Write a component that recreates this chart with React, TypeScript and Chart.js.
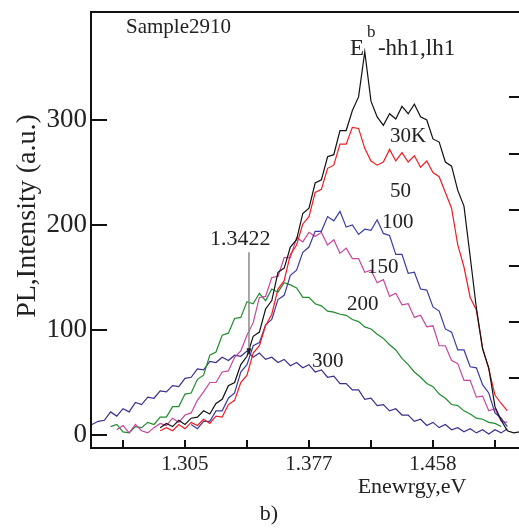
import React, { useEffect, useRef } from 'react';
import { Chart, registerables } from 'chart.js';

Chart.register(...registerables);

const FONT = '"Liberation Serif", "Times New Roman", serif';

// Shared wavelength grid (nm); the energy axis is linear in wavelength
const wavelengthNm = [
  987.5, 985, 982.5, 980, 977.5, 975, 972.5, 970, 967.5, 965,
  962.5, 960, 957.5, 955, 952.5, 950, 947.5, 945, 942.5, 940,
  937.5, 935, 932.5, 930, 927.5, 925, 922.5, 920, 917.5, 915,
  912.5, 910, 907.5, 905, 902.5, 900, 897.5, 895, 892.5, 890,
  887.5, 885, 882.5, 880, 877.5, 875, 872.5, 870, 867.5, 865,
  862.5, 860, 857.5, 855, 852.5, 850, 847.5, 845, 842.5, 840,
  837.5, 835, 832.5, 830, 827.5, 825, 822.5, 820, 817.5, 815,
];

const n = null;

const pl30K = [
  n, n, n, n, n, n, n, n, n, n,
  n, 7, 11, 8, 14, 10, 16, 17, 23, 20,
  30, 34, 47, 50, 67, 75, 94, 98, 120, 128,
  155, 159, 179, 186, 211, 216, 240, 243, 265, 267,
  290, 290, 309, 322, 365, 318, 303, 295, 306, 301,
  313, 306, 315, 303, 300, 282, 279, 260, 256, 233,
  218, 170, 121, 82, 64, 27, 14, 4, 2, 3,
];

const pl50K = [
  n, n, n, n, n, n, n, n, n, n,
  n, 4, 7, 4, 10, 6, 12, 9, 15, 11,
  18, 17, 29, 33, 50, 57, 78, 85, 104, 115,
  139, 147, 172, 181, 201, 208, 231, 234, 254, 257,
  277, 277, 293, 292, 273, 261, 257, 260, 272, 261,
  269, 260, 266, 255, 261, 250, 246, 231, 216, 181,
  160, 131, 119, 83, 63, 38, 30, 23, n, n,
];

const pl100K = [
  n, n, n, n, n, n, n, n, n, n,
  n, n, n, n, n, n, 10, 6, 13, 13,
  23, 23, 35, 40, 60, 67, 85, 88, 105, 110,
  129, 133, 152, 157, 174, 179, 194, 194, 208, 204,
  213, 198, 200, 191, 196, 195, 205, 192, 190, 172,
  172, 154, 155, 139, 138, 122, 118, 101, 98, 81,
  81, 65, 64, 48, 40, 21, 16, 8, n, n,
];

const pl150K = [
  n, n, n, n, 5, 9, 2, 10, 4, 2,
  7, 11, 9, 16, 12, 19, 21, 33, 41, 50,
  50, 60, 61, 74, 80, 95, 107, 131, 132, 150,
  151, 169, 169, 188, 184, 193, 189, 193, 181, 186,
  173, 178, 168, 168, 155, 157, 145, 148, 132, 135,
  124, 125, 112, 114, 103, 104, 85, 85, 71, 68,
  52, 52, 36, 37, 23, 25, 13, 12, n, n,
];

const pl200K = [
  n, n, n, 8, 10, 3, 2, 8, 7, 12,
  10, 17, 17, 27, 27, 39, 40, 53, 57, 76,
  79, 95, 97, 111, 112, 127, 125, 135, 128, 139,
  136, 145, 143, 140, 131, 131, 125, 123, 118, 117,
  115, 114, 110, 108, 103, 101, 96, 92, 86, 81,
  73, 67, 60, 55, 49, 46, 39, 35, 29, 28,
  23, 20, 16, 15, 12, 11, 8, n, n, n,
];

const pl300K = [
  10, 13, 14, 22, 18, 25, 22, 31, 29, 36,
  35, 42, 41, 47, 46, 54, 55, 63, 62, 70,
  69, 74, 71, 76, 75, 80, 74, 78, 72, 74,
  69, 72, 66, 69, 64, 67, 60, 62, 55, 56,
  49, 49, 43, 43, 34, 35, 28, 29, 23, 25,
  19, 19, 13, 15, 9, 12, 7, 10, 5, 7,
  3, 6, 2, 5, 1, 5, 2, 6, n, n,
];

const seriesLabels = ['30K', '50', '100', '150', '200', '300'];
const seriesColors = ['#111111', '#ee1d23', '#3b3ba3', '#c6469d', '#1f8c30', '#3a2f8c'];
const seriesValues = [pl30K, pl50K, pl100K, pl150K, pl200K, pl300K];

// curve label anchors: [wavelength nm, intensity]
const labelAnchorsNm = [867.3, 867.3, 870.6, 876.6, 884.7, 898.8];
const labelAnchorsPL = [279, 226.7, 197, 154, 119, 64.8];

// x axis: ticks every 25 nm, labelled in eV
const tickWavelengths = [975, 950, 925, 900, 875, 850, 825];
const tickLabels = ['', '1.305', '', '1.377', '', '1.458', ''];
const yTicks = [0, 100, 200, 300];
const yTickLabels = ['0', '100', '200', '300'];
const rightTicks = [54, 107.5, 161, 214.5, 268, 321.5];

const markerEnergyLabel = '1.3422';
const markerNm = 924.2;

const decor = {
  id: 'decor',
  afterDraw(chart: any) {
    const { ctx, chartArea: a, scales } = chart;
    const x = scales.x;
    const y = scales.y;
    ctx.save();
    ctx.strokeStyle = '#111';
    ctx.lineWidth = 2;
    ctx.beginPath();
    ctx.moveTo(a.left - 1, a.top);
    ctx.lineTo(a.right + 20, a.top);
    ctx.stroke();
    yTicks.forEach((v) => {
      const py = Math.round(y.getPixelForValue(v));
      ctx.beginPath();
      ctx.moveTo(a.left, py);
      ctx.lineTo(a.left + 16, py);
      ctx.stroke();
    });
    tickWavelengths.forEach((w) => {
      const px = Math.round(x.getPixelForValue(w));
      ctx.beginPath();
      ctx.moveTo(px, a.bottom);
      ctx.lineTo(px, a.bottom - 8);
      ctx.stroke();
    });
    rightTicks.forEach((v) => {
      const py = Math.round(y.getPixelForValue(v));
      ctx.beginPath();
      ctx.moveTo(a.right, py);
      ctx.lineTo(a.right - 13, py);
      ctx.stroke();
    });

    // marker arrow
    const mx = x.getPixelForValue(markerNm);
    const yTop = y.getPixelForValue(174);
    const yTip = y.getPixelForValue(76);
    ctx.strokeStyle = '#8a8a8a';
    ctx.lineWidth = 1.5;
    ctx.beginPath();
    ctx.moveTo(mx, yTop);
    ctx.lineTo(mx, yTip - 6);
    ctx.stroke();
    ctx.fillStyle = '#222';
    ctx.beginPath();
    ctx.moveTo(mx, yTip);
    ctx.lineTo(mx - 2.5, yTip - 7);
    ctx.lineTo(mx + 2.5, yTip - 7);
    ctx.closePath();
    ctx.fill();

    ctx.fillStyle = '#222';
    ctx.textBaseline = 'alphabetic';
    ctx.textAlign = 'left';
    ctx.font = `22px ${FONT}`;
    ctx.fillText(markerEnergyLabel, x.getPixelForValue(939.9), y.getPixelForValue(181));

    ctx.font = `21px ${FONT}`;
    seriesLabels.forEach((t, i) => {
      ctx.fillText(t, x.getPixelForValue(labelAnchorsNm[i]), y.getPixelForValue(labelAnchorsPL[i]));
    });

    // peak annotation E^b-hh1,lh1
    const ex = x.getPixelForValue(883.5);
    const ey = y.getPixelForValue(362);
    ctx.font = `23px ${FONT}`;
    ctx.fillText('E', ex, ey);
    const ew = ctx.measureText('E').width;
    ctx.font = `17px ${FONT}`;
    ctx.fillText('b', ex + ew + 3, ey - 18);
    ctx.font = `23px ${FONT}`;
    ctx.fillText('-hh1,lh1', ex + 28, ey);

    ctx.font = `21px ${FONT}`;
    ctx.fillText('Sample2910', 126, 33);

    ctx.textAlign = 'center';
    ctx.font = `22px ${FONT}`;
    ctx.fillText('Enewrgy,eV', 412, 493);
    ctx.fillText('b)', 269, 520);

    ctx.save();
    ctx.translate(35, 216);
    ctx.rotate(-Math.PI / 2);
    ctx.font = `28px ${FONT}`;
    ctx.fillText('PL,Intensity (a.u.)', 0, 0);
    ctx.restore();

    ctx.restore();
  },
};

export default function App() {
  const ref = useRef<HTMLCanvasElement>(null);
  useEffect(() => {
    if (!ref.current) return;
    const datasets = seriesValues.map((vals, i) => ({
      label: seriesLabels[i],
      data: wavelengthNm
        .map((w, k) => ({ x: w, y: vals[k] }))
        .filter((p) => p.y !== null),
      borderColor: seriesColors[i],
      borderWidth: 1.2,
      pointRadius: 0,
      tension: 0,
      fill: false,
    }));
    const chart = new Chart(ref.current, {
      type: 'line',
      data: { datasets: datasets as any },
      options: {
        responsive: false,
        devicePixelRatio: 1,
        animation: false,
        layout: { padding: { left: 0, top: 12, right: 8, bottom: 0 } },
        plugins: { legend: { display: false }, tooltip: { enabled: false } },
        scales: {
          x: {
            type: 'linear',
            reverse: true,
            min: 814.1,
            max: 987.9,
            afterBuildTicks: (s: any) => {
              s.ticks = tickWavelengths.map((v) => ({ value: v }));
            },
            afterFit: (s: any) => {
              s.height = 83;
              s.paddingLeft = 0;
              s.paddingRight = 0;
            },
            grid: { display: false, drawTicks: false },
            border: { display: true, color: '#111', width: 2 },
            ticks: {
              autoSkip: false,
              maxRotation: 0,
              padding: 4,
              color: '#222',
              font: { size: 21, family: FONT },
              callback: (_v: any, i: number) => tickLabels[i],
            },
          },
          y: {
            type: 'linear',
            min: -12.4,
            max: 402.9,
            afterBuildTicks: (s: any) => {
              s.ticks = yTicks.map((v) => ({ value: v }));
            },
            afterFit: (s: any) => {
              s.width = 91;
              s.paddingTop = 0;
              s.paddingBottom = 0;
            },
            grid: { display: false, drawTicks: false },
            border: { display: true, color: '#111', width: 2 },
            ticks: {
              autoSkip: false,
              padding: 4,
              color: '#222',
              font: { size: 27, family: FONT },
              callback: (_v: any, i: number) => yTickLabels[i],
            },
          },
        },
      },
      plugins: [decor],
    });
    return () => chart.destroy();
  }, []);
  return (
    <div
      style={{
        position: 'fixed',
        left: 0,
        top: 0,
        width: 519,
        height: 531,
        overflow: 'hidden',
        background: '#fff',
      }}
    >
      <canvas ref={ref} width={530} height={531} style={{ display: 'block', width: 530, height: 531 }} />
    </div>
  );
}
